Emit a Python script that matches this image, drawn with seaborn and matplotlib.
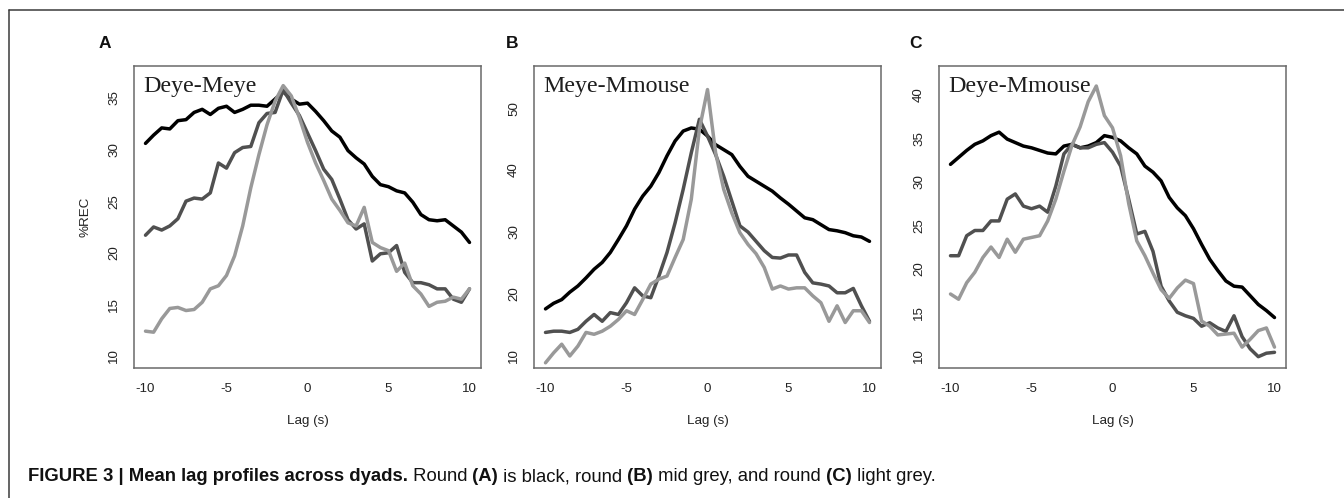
import matplotlib
matplotlib.use('Agg')
import matplotlib.pyplot as plt
from matplotlib.lines import Line2D
import numpy as np
import seaborn as sns

# lag grid (s), shared by all curves
lag = np.arange(-10, 10.25, 0.5)

# Panel A: Deye-Meye
a_black = [30.6, 31.4, 32.1, 32.0, 32.8, 32.9, 33.6, 33.9, 33.4, 34.0,
           34.2, 33.6, 33.9, 34.3, 34.3, 34.2, 34.9, 35.6, 34.9, 34.4,
           34.5, 33.7, 32.8, 31.8, 31.2, 29.9, 29.2, 28.6, 27.4, 26.6,
           26.4, 26.0, 25.8, 24.9, 23.7, 23.2, 23.1, 23.2, 22.6, 22.0, 21.0]
a_mid = [21.7, 22.5, 22.2, 22.6, 23.3, 25.0, 25.3, 25.2, 25.8, 28.7,
         28.2, 29.7, 30.2, 30.3, 32.6, 33.5, 33.6, 35.8, 34.5, 33.3,
         31.6, 29.9, 28.1, 27.1, 25.2, 23.2, 22.3, 22.8, 19.2, 19.9,
         20.0, 20.7, 18.1, 17.1, 17.1, 16.9, 16.5, 16.5, 15.5, 15.2, 16.5]
a_light = [12.4, 12.3, 13.6, 14.6, 14.7, 14.4, 14.5, 15.2, 16.5, 16.8,
           17.8, 19.7, 22.6, 26.3, 29.5, 32.4, 34.7, 36.2, 35.2, 33.1,
           30.7, 28.7, 27.0, 25.2, 24.1, 22.9, 22.6, 24.4, 21.0, 20.5,
           20.2, 18.2, 19.0, 16.8, 16.0, 14.8, 15.2, 15.3, 15.7, 15.5, 16.5]

# Panel B: Meye-Mmouse
b_black = [17.6, 18.5, 19.1, 20.3, 21.3, 22.6, 24.0, 25.1, 26.7, 28.8,
           31.0, 33.7, 35.8, 37.4, 39.6, 42.3, 44.7, 46.3, 46.8, 46.6,
           45.5, 44.1, 43.3, 42.5, 40.6, 39.0, 38.2, 37.4, 36.6, 35.5,
           34.5, 33.4, 32.3, 32.0, 31.2, 30.4, 30.2, 29.9, 29.4, 29.2, 28.5]
b_mid = [13.8, 14.0, 14.0, 13.8, 14.3, 15.6, 16.7, 15.6, 17.0, 16.7,
         18.6, 21.0, 19.7, 19.4, 22.9, 26.7, 31.5, 36.9, 42.8, 48.2,
         45.5, 42.5, 39.0, 35.0, 31.0, 30.0, 28.5, 27.0, 25.9, 25.8,
         26.3, 26.3, 23.5, 21.8, 21.6, 21.3, 20.2, 20.2, 20.9, 18.1, 15.6]
b_light = [8.9, 10.5, 11.9, 10.0, 11.6, 13.8, 13.5, 14.0, 14.8, 15.9,
           17.3, 16.7, 19.1, 21.6, 22.4, 22.9, 25.9, 28.8, 35.3, 46.6,
           53.0, 42.8, 36.9, 33.1, 29.9, 28.0, 26.5, 24.3, 20.8, 21.3,
           20.8, 21.0, 21.0, 19.7, 18.6, 15.6, 18.1, 15.4, 17.3, 17.3, 15.4]

# Panel C: Deye-Mmouse
c_black = [32.0, 32.8, 33.6, 34.3, 34.7, 35.3, 35.7, 34.9, 34.5, 34.1,
           33.9, 33.6, 33.3, 33.2, 34.1, 34.3, 33.9, 34.1, 34.5, 35.3,
           35.1, 34.7, 33.9, 33.2, 31.8, 31.1, 30.1, 28.2, 27.0, 26.1,
           24.6, 22.8, 21.1, 19.8, 18.6, 18.0, 17.9, 16.9, 15.9, 15.2, 14.4]
c_mid = [21.5, 21.5, 23.8, 24.4, 24.4, 25.5, 25.5, 28.0, 28.6, 27.2,
         26.9, 27.2, 26.5, 29.5, 33.2, 34.3, 33.9, 33.9, 34.3, 34.5,
         33.4, 31.8, 28.0, 24.0, 24.3, 22.0, 18.0, 16.3, 15.0, 14.6,
         14.3, 13.4, 13.8, 13.2, 12.8, 14.6, 12.2, 10.8, 9.9, 10.3, 10.4]
c_light = [17.1, 16.5, 18.4, 19.6, 21.3, 22.5, 21.3, 23.4, 21.9, 23.4,
           23.6, 23.8, 25.5, 28.0, 31.2, 34.2, 36.3, 39.2, 41.0, 37.6,
           36.2, 33.0, 27.5, 23.2, 21.5, 19.5, 17.6, 16.6, 17.8, 18.7,
           18.3, 14.0, 13.4, 12.4, 12.5, 12.6, 11.0, 11.9, 12.9, 13.2, 11.0]

panels = [
    ('A', 'Deye-Meye', [a_black, a_mid, a_light], (8.83, 38.1), [10, 15, 20, 25, 30, 35]),
    ('B', 'Meye-Mmouse', [b_black, b_mid, b_light], (8.06, 56.8), [10, 20, 30, 40, 50]),
    ('C', 'Deye-Mmouse', [c_black, c_mid, c_light], (8.6, 43.3), [10, 15, 20, 25, 30, 35, 40]),
]
colors = ['#000000', '#505050', '#999999']

sns.set_style('white')
plt.rcParams['font.family'] = ['Liberation Sans', 'DejaVu Sans']
plt.rcParams['axes.unicode_minus'] = False

W, H = 1344, 498
fig = plt.figure(figsize=(W / 100, H / 100), dpi=100)

lefts = [134, 534, 939]
box_col = '#6a6a6a'

for i, (letter, title, series, ylim, yticks) in enumerate(panels):
    ax = fig.add_axes([lefts[i] / W, (H - 368) / H, 347 / W, 302 / H])
    for vals, c in zip(series, colors):
        sns.lineplot(x=lag, y=vals, ax=ax, color=c, linewidth=2.5)
    ax.set_xlim(-10.71, 10.71)
    ax.set_ylim(*ylim)
    ax.set_xticks([-10, -5, 0, 5, 10])
    ax.set_yticks(yticks)
    for s in ax.spines.values():
        s.set_color(box_col)
        s.set_linewidth(1.1)
    ax.tick_params(axis='both', length=5, width=1, color=box_col,
                   labelsize=9.6, labelcolor='#222222', direction='out')
    ax.tick_params(axis='x', pad=6)
    ax.tick_params(axis='y', pad=5)
    for lab in ax.get_yticklabels():
        lab.set_rotation(90)
        lab.set_va('center')
        lab.set_ha('right')
    ax.set_xlabel('Lag (s)', fontsize=9.6, color='#222222', labelpad=14)
    if i == 0:
        ax.set_ylabel('%REC', fontsize=9.6, color='#222222', labelpad=12)
    else:
        ax.set_ylabel('')
    ax.annotate(title, xy=(0, 1), xycoords='axes fraction', xytext=(9, -10),
                textcoords='offset pixels', ha='left', va='top',
                family='Liberation Serif', fontsize=17.3, color='#1e1e1e')

# panel letters
for x, letter in zip([105, 512, 915], ['A', 'B', 'C']):
    fig.text(x / W, 1 - 43 / H, letter, ha='center', va='center',
             fontsize=12.5, weight='bold', color='#111111')

# outer frame (left and top only)
fig.add_artist(Line2D([9 / W, 9 / W], [1 - 10 / H, 0], transform=fig.transFigure,
                      color='#3a3a3a', linewidth=1.1))
fig.add_artist(Line2D([9 / W, 1], [1 - 10 / H, 1 - 10 / H], transform=fig.transFigure,
                      color='#3a3a3a', linewidth=1.1))

# caption with mixed weights, pieces laid out on a common baseline
parts = [('FIGURE 3 | Mean lag profiles across dyads.', 'bold'),
         (' Round', 'normal'), (' (A)', 'bold'),
         (' is black, round', 'normal'), (' (B)', 'bold'),
         (' mid grey, and round', 'normal'), (' (C)', 'bold'),
         (' light grey.', 'normal')]
renderer = fig.canvas.get_renderer()
x = 28 / W
for txt, wt in parts:
    t = fig.text(x, 1 - 481 / H, txt, weight=wt, fontsize=13.3, color='#111111',
                 ha='left', va='baseline')
    bb = t.get_window_extent(renderer)
    x = bb.x1 / W

fig.savefig('out.png', dpi=100)
